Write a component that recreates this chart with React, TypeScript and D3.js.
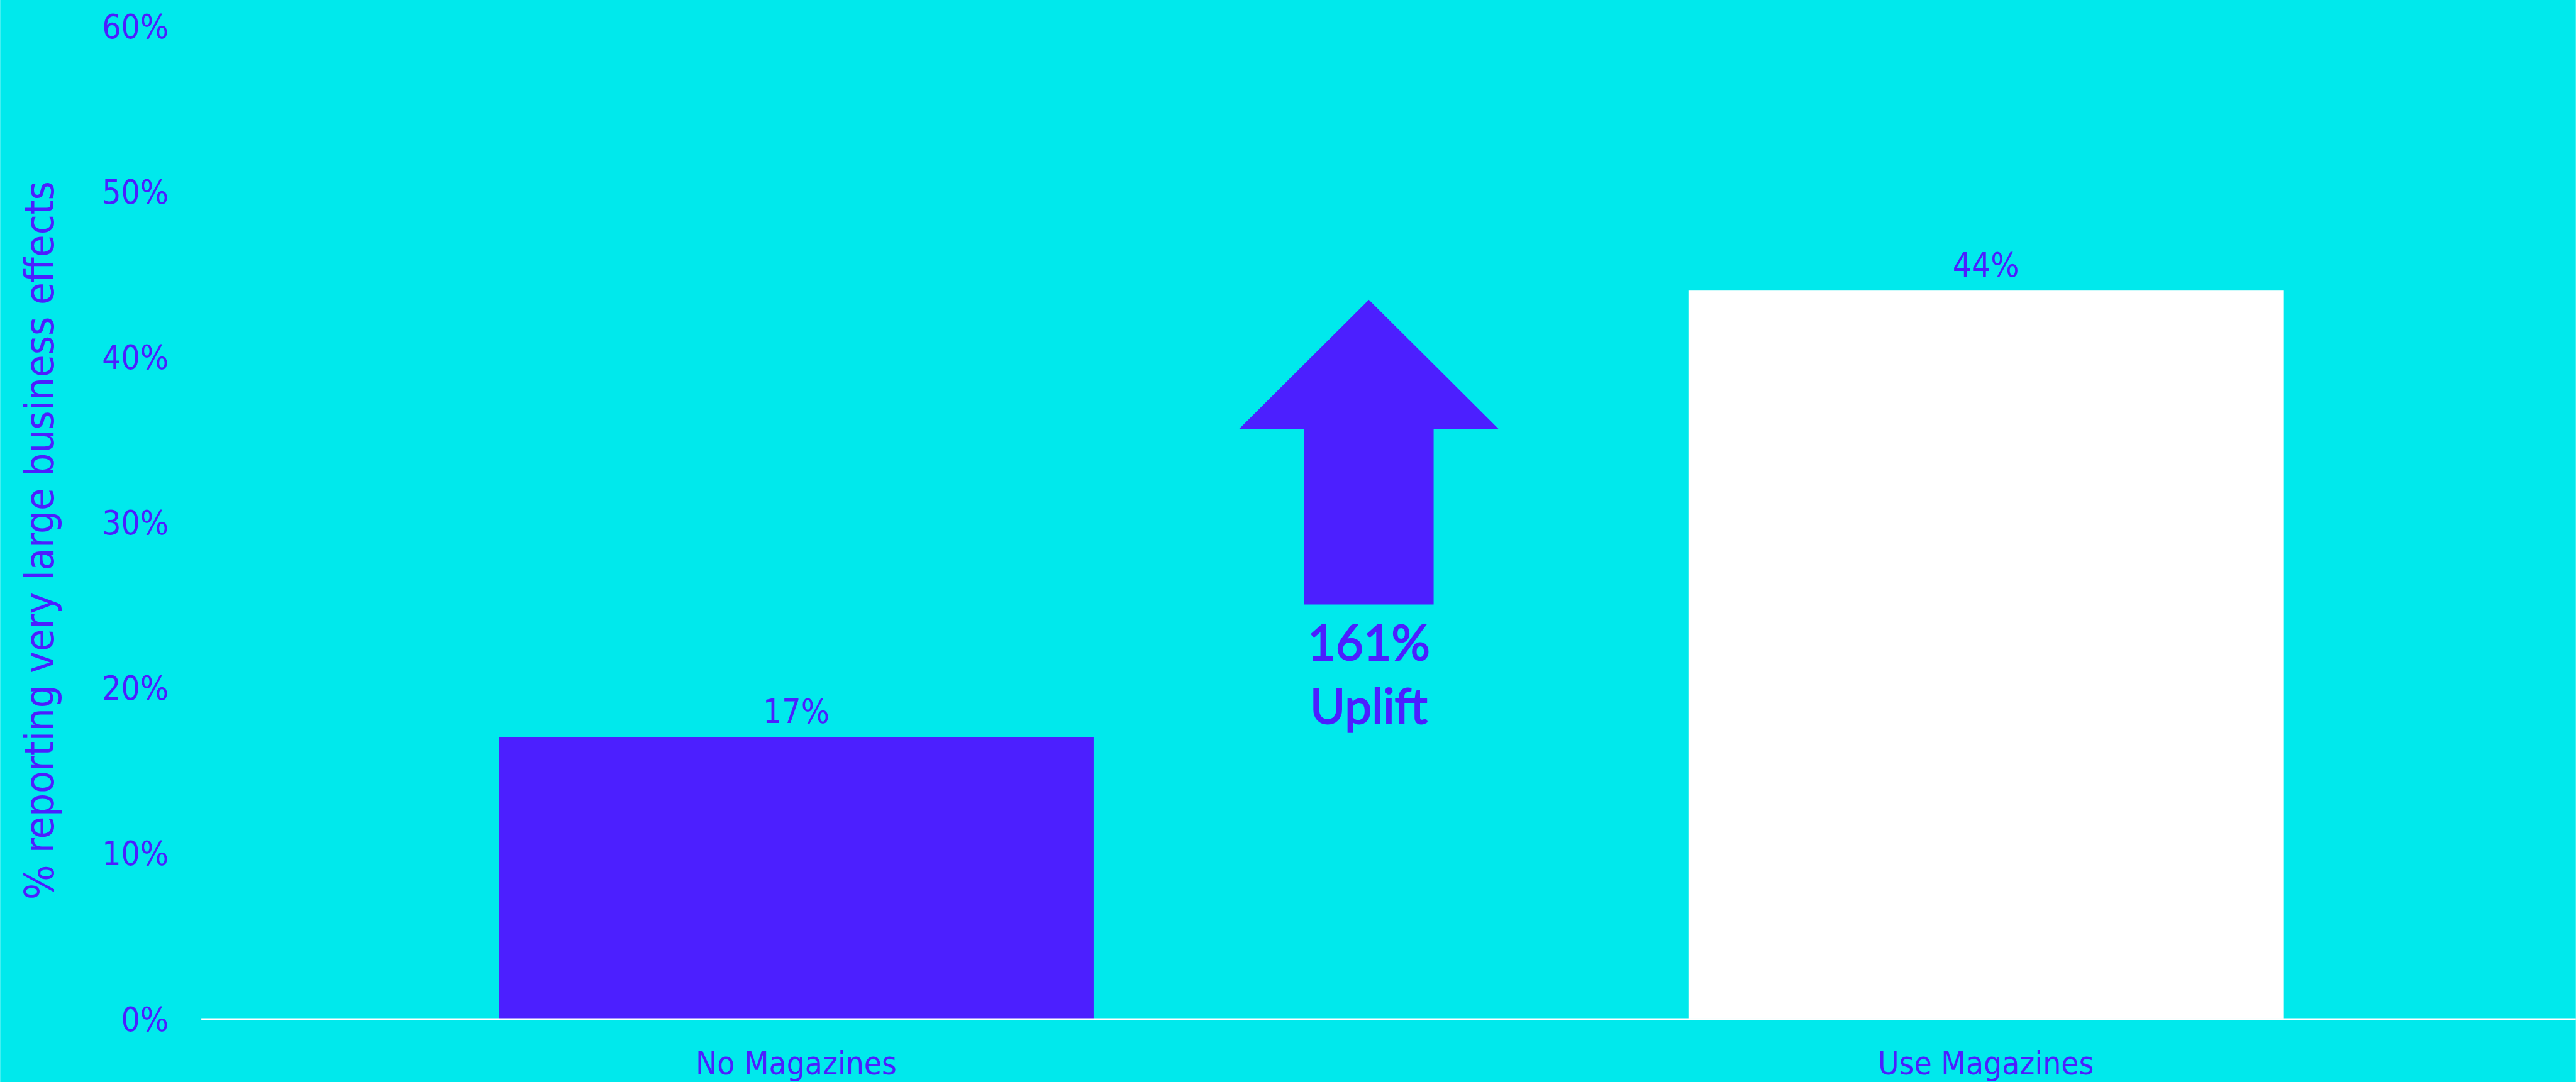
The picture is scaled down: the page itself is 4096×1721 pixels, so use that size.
import React from "react";
import * as d3 from "d3";

const categories = ["No Magazines", "Use Magazines"];
const values = [17, 44];
const yTicks = [0, 10, 20, 30, 40, 50, 60];
const yTitle = "% reporting very large business effects";
const upliftLines = ["161%", "Uplift"];

const W = 4174;
const H = 1754;
const BG = "#00E9EC";
const PURPLE = "#4C1FFF";
const barColors = [PURPLE, "#FFFFFF"];

export default function App() {
  const y = d3.scaleLinear().domain([0, 60]).range([1651, 42]);
  const x = d3
    .scaleBand<string>()
    .domain(categories)
    .range([326, 4182])
    .paddingInner(0.5)
    .paddingOuter(0.25);

  const font = "'DejaVu Sans Condensed', 'DejaVu Sans', sans-serif";
  const fs = 54;

  // arrow annotation
  const ax = 2218;
  const tipY = 486;
  const wingY = 696;
  const shaftBottom = 980;
  const headHalf = 211;
  const shaftHalf = 105;
  const arrowPts: [number, number][] = [
    [ax, tipY],
    [ax + headHalf, wingY],
    [ax + shaftHalf, wingY],
    [ax + shaftHalf, shaftBottom],
    [ax - shaftHalf, shaftBottom],
    [ax - shaftHalf, wingY],
    [ax - headHalf, wingY],
  ];
  const arrowPath = d3.line()(arrowPts) + "Z";

  return (
    <svg
      width={4096}
      height={1721}
      viewBox={`0 0 ${W} ${H}`}
      style={{ position: "absolute", left: 0, top: 0, display: "block" }}
    >
      <rect x={0} y={0} width={W} height={H} fill={BG} />
      {yTicks.map((t) => (
        <text
          key={t}
          x={273}
          y={y(t) + 20}
          textAnchor="end"
          fontFamily={font}
          fontSize={fs}
          fill={PURPLE}
        >
          {t}%
        </text>
      ))}
      <text
        transform={`translate(86, 876) rotate(-90)`}
        textAnchor="middle"
        fontFamily={font}
        fontSize={66}
        fill={PURPLE}
      >
        {yTitle}
      </text>
      {categories.map((c, i) => (
        <rect
          key={c}
          x={x(c)}
          y={y(values[i])}
          width={x.bandwidth()}
          height={y(0) - y(values[i])}
          fill={barColors[i]}
        />
      ))}
      {categories.map((c, i) => (
        <text
          key={c + "v"}
          x={(x(c) as number) + x.bandwidth() / 2}
          y={y(values[i]) - 23}
          textAnchor="middle"
          fontFamily={font}
          fontSize={fs}
          fill={PURPLE}
        >
          {values[i]}%
        </text>
      ))}
      <line x1={326} x2={W} y1={y(0) + 1} y2={y(0) + 1} stroke="#FFFFFF" strokeWidth={3} />
      {categories.map((c) => (
        <text
          key={c + "c"}
          x={(x(c) as number) + x.bandwidth() / 2}
          y={1742}
          textAnchor="middle"
          fontFamily={font}
          fontSize={52}
          fill={PURPLE}
        >
          {c}
        </text>
      ))}
      <path d={arrowPath} fill={PURPLE} />
      {upliftLines.map((l, i) => (
        <text
          key={l}
          x={ax}
          y={1070 + i * 103}
          textAnchor="middle"
          fontFamily="Lato, 'Open Sans', sans-serif"
          fontWeight={400}
          fontSize={78}
          fill={PURPLE}
          stroke={PURPLE}
          strokeWidth={2}
        >
          {l}
        </text>
      ))}
    </svg>
  );
}
